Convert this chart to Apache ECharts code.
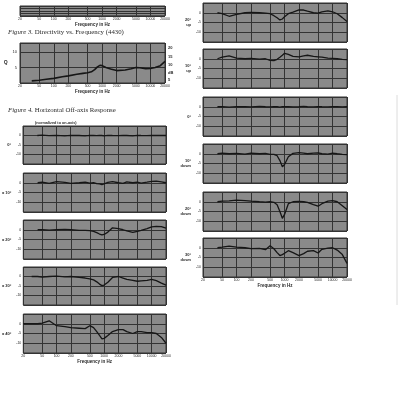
<!DOCTYPE html>
<html>
<head>
<meta charset="utf-8">
<script src="https://cdn.jsdelivr.net/npm/echarts@6/dist/echarts.min.js"></script>
<style>
  html, body { margin: 0; background: #fff; }
  #chart { width: 400px; height: 400px; }
</style>
</head>
<body>
<div id="chart"></div>
<script>
// frequency grid shared by the off-axis curves (Hz)
const freqHz = [20, 30, 40, 50, 70, 100, 150, 200, 300, 400, 500, 600, 700, 800, 900, 1000,
  1200, 1500, 2000, 2500, 3000, 4000, 5000, 6000, 8000, 10000, 12500, 16000, 20000];
const freqTicks = [20, 50, 100, 200, 500, 1000, 2000, 5000, 10000, 20000];

// Figure 3: directivity (Q) vs frequency
const dirFreq = [35, 50, 70, 100, 150, 200, 300, 400, 500, 600, 700, 800, 900, 1000, 1200,
  1500, 2000, 3000, 4000, 5000, 6000, 8000, 10000, 12500, 16000, 20000];
const dirQ = [0.7, 0.9, 1.2, 1.5, 2.0, 2.3, 2.8, 3.1, 3.3, 3.6, 4.3, 5.2, 5.7, 5.6, 5.0,
  4.5, 4.0, 4.2, 4.6, 5.0, 4.9, 4.6, 4.7, 5.0, 5.6, 7.0];
const dirQTicks = [5, 10];
const dirDbTicks = ['20', '15', '10', 'dB', '5'];

// Figure 4: horizontal off-axis response, dB relative to on-axis
const h0 = [null, null, 0, 0.2, -0.1, 0.1, -0.2, 0.1, 0, -0.2, 0.1, 0, -0.1, 0.1, 0, -0.2,
  0.1, 0, -0.1, 0.1, 0, -0.2, 0.1, 0, -0.1, 0.1, 0, 0.1, 0];
const h10 = [null, null, 0, 0.3, -0.3, 0.6, 0.2, -0.3, 0, 0.3, -0.2, 0, -0.4, -0.6, -0.9, -0.6,
  0.2, 0.6, 0, -0.3, 0.5, 0, 0.3, -0.2, 0.3, 0.7, 0.8, 0.5, 0];
const h20 = [null, null, 0, 0, -0.2, 0, 0.2, 0, -0.3, -0.3, -0.5, -0.8, -1.5, -2.2, -2.6, -2.4,
  -1.2, 1.0, 0.6, 0, -0.6, -1.3, -0.8, -0.3, 0.6, 1.5, 1.7, 1.6, 0.8];
const h30 = [null, 0, 0, -0.3, 0, 0.2, -0.2, 0, -0.5, -0.8, -1.2, -1.8, -2.8, -4, -4.8, -4.5,
  -3, -0.5, 0, -0.8, -1.5, -2, -2.5, -2.3, -2, -1.5, -2.2, -3.5, -4.5];
const h40 = [0, 0, 0, 0.3, 1.5, -1, -1.5, -2, -2.3, -2.5, -1, -2, -4, -6, -7.7, -7.5,
  -6, -4, -3, -3, -4, -5, -4, -4, -4.5, -4.5, -5, -7, -10];

// vertical off-axis response (right column)
const v20up = [null, null, 0, -0.4, -1.8, -0.8, 0, 0.2, 0, -0.2, -0.5, -1.5, -2.6, -3.7, -3.2, -2,
  -0.5, 0.3, 1.5, 1.4, 0.8, 0, -0.2, 0.5, 1, 0.5, -0.5, -2.5, -4.5];
const v10up = [null, null, 0, 0.8, 1.5, 0.3, 0, 0.2, -0.2, 0, -0.8, -1, -0.3, 0.8, 1.8, 2.8,
  2.2, 1.2, 1, 1.5, 1.8, 1.2, 1, 0.8, 0.3, 0.2, 0, -0.3, -0.4];
const v0 = [null, null, 0, 0.1, -0.2, 0.1, 0, -0.1, 0.2, 0, -0.1, 0.1, 0, -0.2, 0.1, 0,
  0.1, -0.1, 0, 0.2, 0, -0.1, 0.1, 0, -0.1, 0.1, 0, -0.1, 0];
const v10dn = [null, null, 0, 0.3, 0, 0.2, -0.2, 0.3, 0, 0.2, -0.3, -0.3, -1, -3.5, -6.7, -5.5,
  -1.5, 0.2, 0.6, 0.3, 0, 0.3, 0.5, 0, -0.2, 0.3, 0, -0.3, -0.5];
const v20dn = [null, null, 0, 0.3, 0.5, 0.8, 0.6, 0.3, 0, -0.2, 0, -0.3, -1.5, -5, -8.5, -6.5,
  -1, 0, 0.2, 0, -0.3, -1.5, -2.3, -1, 0.3, 0.6, 0, -2, -4];
const v30dn = [null, null, 0, 0.3, 0.8, 0.3, 0, -0.5, -0.3, -1, 1, -0.5, -2.5, -4, -3.5, -2.8,
  -1.5, -2.5, -4, -3, -1.8, -1.5, -2.7, -0.8, -0.2, 0, -1.2, -3.5, -8];
const dbTicks = [0, -5, -10];

const PLOT_BG = '#8a8a8a';
const GRID_LINE = '#333';
const CURVE = '#161616';
const TEXT = '#2a2a2a';
const SANS = 'Liberation Sans';
const SERIF = 'Liberation Serif';

const logTicks = freqTicks.map(f => Math.log10(f));
const toPoints = (freqs, vals) => freqs.map((f, i) => [Math.log10(f), vals[i]]);

// panel layout: [left, top, width, height]
const panels = [
  { box: [20, -33, 145, 39], values: null, xLabels: true },
  { box: [20, 43, 145, 40], fig3: true, xLabels: true },
  { box: [23, 126, 143, 38], values: h0, name: '0°' },
  { box: [23, 173, 143, 39], values: h10, name: '± 10°' },
  { box: [23, 220, 143, 39], values: h20, name: '± 20°' },
  { box: [23, 267, 143, 38], values: h30, name: '± 30°' },
  { box: [23, 314, 143, 39], values: h40, name: '± 40°', xLabels: true },
  { box: [203, 3, 144, 39], values: v20up, name: '20°\nup' },
  { box: [203, 49, 144, 39], values: v10up, name: '10°\nup' },
  { box: [203, 97, 144, 39], values: v0, name: '0°' },
  { box: [203, 144, 144, 39], values: v10dn, name: '10°\ndown' },
  { box: [203, 192, 144, 39], values: v20dn, name: '20°\ndown' },
  { box: [203, 238, 144, 39], values: v30dn, name: '30°\ndown', xLabels: true }
];

const grid = [], xAxis = [], yAxis = [], series = [];

panels.forEach((p, i) => {
  const [left, top, width, height] = p.box;
  grid.push({
    left, top, width, height,
    show: true,
    backgroundColor: PLOT_BG,
    borderColor: GRID_LINE,
    borderWidth: 1
  });
  xAxis.push({
    gridIndex: i,
    type: 'value',
    min: Math.log10(20),
    max: Math.log10(20000),
    axisLine: { show: false },
    axisTick: { show: false, customValues: logTicks },
    axisLabel: {
      show: !!p.xLabels,
      customValues: logTicks,
      formatter: v => String(Math.round(Math.pow(10, v))),
      fontSize: 3.5,
      fontFamily: SANS,
      color: TEXT,
      margin: 1.5
    },
    splitLine: { show: true, lineStyle: { color: GRID_LINE, width: 1 } },
    name: p.xLabels ? 'Frequency in Hz' : '',
    nameLocation: 'middle',
    nameGap: 6,
    nameTextStyle: { fontSize: 4.5, fontWeight: 'bold', fontFamily: SANS, color: TEXT }
  });

  if (p.fig3) {
    yAxis.push({
      gridIndex: i,
      type: 'value',
      min: 0,
      max: 12.9,
      interval: 5,
      axisLine: { show: false },
      axisTick: { show: false },
      axisLabel: {
        formatter: v => (dirQTicks.includes(v) ? String(v) : ''),
        fontSize: 4, fontFamily: SANS, color: TEXT, margin: 3
      },
      splitLine: { show: true, lineStyle: { color: GRID_LINE, width: 1 } },
      name: 'Q',
      nameLocation: 'middle',
      nameRotate: 0,
      nameGap: 8,
      nameTextStyle: { fontSize: 5, fontWeight: 'bold', fontFamily: SANS, color: TEXT }
    });
    series.push({
      type: 'line',
      xAxisIndex: i, yAxisIndex: i,
      data: toPoints(dirFreq, dirQ),
      showSymbol: false,
      lineStyle: { color: CURVE, width: 1.6 },
      silent: true
    });
    return;
  }

  yAxis.push({
    gridIndex: i,
    type: 'value',
    min: -15,
    max: 5,
    interval: 5,
    axisLine: { show: false },
    axisTick: { show: false },
    axisLabel: {
      show: !!p.values,
      formatter: v => (dbTicks.includes(v) ? String(v) : ''),
      fontSize: 3.5, fontFamily: SANS, color: TEXT, margin: 2
    },
    splitLine: { show: true, lineStyle: { color: GRID_LINE, width: 1 } },
    name: p.name || '',
    nameLocation: 'middle',
    nameRotate: 0,
    nameGap: 9,
    nameTextStyle: { fontSize: 4, fontWeight: 'bold', fontFamily: SANS, color: TEXT, lineHeight: 4.5 }
  });
  if (p.values) {
    series.push({
      type: 'line',
      xAxisIndex: i, yAxisIndex: i,
      data: toPoints(freqHz, p.values),
      showSymbol: false,
      lineStyle: { color: CURVE, width: 1.3 },
      silent: true
    });
  }
});

const dbLabelY = [48, 57, 65, 73, 80];

const chart = echarts.init(document.getElementById('chart'));
chart.setOption({
  animation: false,
  backgroundColor: '#fff',
  grid, xAxis, yAxis, series,
  graphic: [
    {
      type: 'text', left: 8, top: 29,
      style: {
        text: '{i|Figure 3.} Directivity vs. Frequency (4430)',
        font: `6.8px ${SERIF}`, fill: TEXT,
        rich: { i: { fontStyle: 'italic', fontFamily: SERIF, fontSize: 6.8 } }
      }
    },
    {
      type: 'text', left: 8, top: 107,
      style: {
        text: '{i|Figure 4.} Horizontal Off-axis Response',
        font: `6.8px ${SERIF}`, fill: TEXT,
        rich: { i: { fontStyle: 'italic', fontFamily: SERIF, fontSize: 6.8 } }
      }
    },
    {
      type: 'text', left: 35, top: 121,
      style: { text: '(normalized to on-axis)', font: `bold 3.8px ${SANS}`, fill: TEXT }
    },
    ...dirDbTicks.map((t, k) => ({
      type: 'text', left: 168, top: dbLabelY[k] - 2,
      style: { text: t, font: `bold 4px ${SANS}`, fill: TEXT }
    })),
    {
      type: 'line',
      shape: { x1: 397, y1: 95, x2: 397, y2: 305 },
      style: { stroke: '#dcdcdc', lineWidth: 1 }
    }
  ]
});
</script>
</body>
</html>
